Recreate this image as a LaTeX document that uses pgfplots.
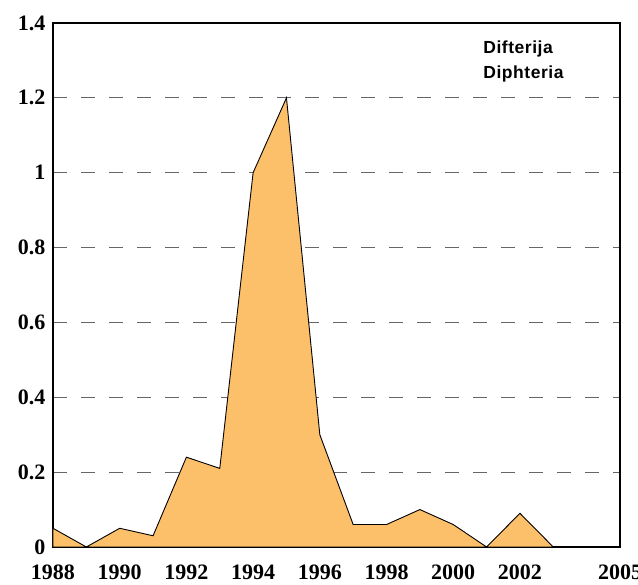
\documentclass[border=0pt]{standalone}
\usepackage{pgfplots}
\pgfplotsset{compat=1.18}
\usepackage{fontspec}
\setmainfont{Liberation Serif}
\newfontfamily\legfont[LetterSpace=3]{Liberation Sans}
\definecolor{areafill}{RGB}{253,192,106}
\begin{document}
\begin{tikzpicture}
\begin{axis}[
  scale only axis,
  width=567pt, height=524pt,
  xmin=1988, xmax=2005,
  ymin=0, ymax=1.4,
  xtick={1988,1990,1992,1994,1996,1998,2000,2002,2005},
  xticklabels={1988,1990,1992,1994,1996,1998,2000,2002,2005},
  ytick={0,0.2,0.4,0.6,0.8,1,1.2,1.4},
  yticklabels={0,0.2,0.4,0.6,0.8,1,1.2,1.4},
  ymajorgrids,
  major grid style={black!60, line width=1pt, dash pattern=on 14pt off 14pt},
  major tick length=0pt,
  tick style={draw=none},
  axis line style={line width=1.1pt},
  ticklabel style={font=\fontsize{22}{24}\selectfont\bfseries},
  xticklabel style={anchor=base, yshift=-33pt},
  yticklabel style={xshift=-4pt},
  clip=false,
]
\addplot[fill=areafill, draw=black, line width=0.9pt] coordinates {
 (1988,0.05) (1989,0) (1990,0.05) (1991,0.03) (1992,0.24) (1993,0.21)
 (1994,1.0) (1995,1.2) (1996,0.3) (1997,0.06) (1998,0.06) (1999,0.1)
 (2000,0.06) (2001,0) (2002,0.09) (2003,0) (2004,0) (2005,0)
} \closedcycle;
\draw[line width=2pt] (axis cs:2003,0) -- (axis cs:2005,0);
\node[anchor=west, align=left, inner sep=0pt, font=\legfont\fontsize{17.5}{25}\selectfont\bfseries] at (axis cs:2000.9,1.297) {Difterija\\Diphteria};
\end{axis}
\pgfresetboundingbox
\path[use as bounding box] (-53pt,-38pt) rectangle (585pt,547pt);
\end{tikzpicture}
\end{document}
